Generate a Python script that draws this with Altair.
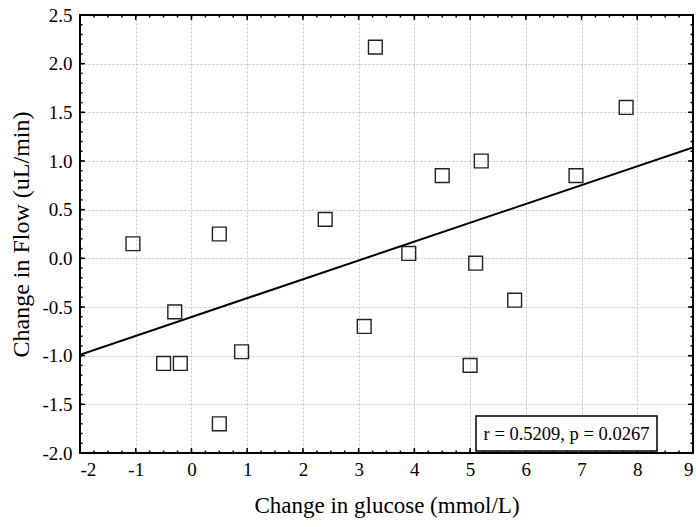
import altair as alt
import pandas as pd
import numpy as np

# data
glucose = [-1.05, -0.3, -0.5, -0.2, 0.5, 0.5, 0.9, 2.4, 3.1, 3.3, 3.9, 4.5, 5.0, 5.1, 5.2, 5.8, 6.9, 7.8]
flow = [0.15, -0.55, -1.08, -1.08, 0.25, -1.70, -0.96, 0.40, -0.70, 2.17, 0.05, 0.85, -1.10, -0.05, 1.0, -0.43, 0.85, 1.55]
fit_x = [-2, 9]
fit_y = [-0.99, 1.14]
x_major = list(range(-2, 10))
y_major = [-2.0, -1.5, -1.0, -0.5, 0.0, 0.5, 1.0, 1.5, 2.0, 2.5]
x_minor = np.arange(-2, 9.001, 0.25).round(2).tolist()
y_minor = np.arange(-2, 2.501, 0.1).round(2).tolist()
annotation = "r = 0.5209, p = 0.0267"

W, H = 613, 438
FONT = "Liberation Serif"

pts = pd.DataFrame({"x": glucose, "y": flow})
fit = pd.DataFrame({"x": fit_x, "y": fit_y})

xs = alt.Scale(domain=[-2, 9], nice=False, zero=False)
ys = alt.Scale(domain=[-2.0, 2.5], nice=False, zero=False)

xaxis = alt.Axis(values=x_major, title="Change in glucose (mmol/L)",
                 labelExpr="(datum.value<0?'-':'') + abs(datum.value)",
                 grid=True, gridDash=[2, 2], gridColor="#c4c4c4", gridWidth=1,
                 tickSize=0, domain=False, labelPadding=7, titlePadding=15,
                 labelFont=FONT, labelFontSize=19, labelColor="black",
                 titleFont=FONT, titleFontSize=23, titleFontWeight="normal", titleColor="black")
yaxis = alt.Axis(values=y_major, title="Change in Flow (uL/min)",
                 labelExpr="(datum.value<0?'-':'') + format(abs(datum.value), '.1f')",
                 grid=True, gridDash=[2, 2], gridColor="#c4c4c4", gridWidth=1,
                 tickSize=0, domain=False, labelPadding=8, titlePadding=8,
                 labelFont=FONT, labelFontSize=19, labelColor="black",
                 titleFont=FONT, titleFontSize=24, titleFontWeight="normal", titleColor="black")

points = alt.Chart(pts).mark_point(shape="square", filled=False, size=190,
                                   color="#222222", strokeWidth=1.4, opacity=1).encode(
    x=alt.X("x:Q", scale=xs, axis=xaxis),
    y=alt.Y("y:Q", scale=ys, axis=yaxis),
)

line = alt.Chart(fit).mark_line(color="black", strokeWidth=2, clip=True).encode(
    x=alt.X("x:Q", scale=xs), y=alt.Y("y:Q", scale=ys))

def xticks(vals, length):
    d = pd.DataFrame({"v": vals})
    bot = alt.Chart(d).mark_rule(color="black", strokeWidth=1.5).encode(
        x=alt.X("v:Q", scale=xs), y=alt.value(H), y2=alt.value(H - length))
    top = alt.Chart(d).mark_rule(color="black", strokeWidth=1.5).encode(
        x=alt.X("v:Q", scale=xs), y=alt.value(0), y2=alt.value(length))
    return bot + top

def yticks(vals, length):
    d = pd.DataFrame({"v": vals})
    left = alt.Chart(d).mark_rule(color="black", strokeWidth=1.5).encode(
        y=alt.Y("v:Q", scale=ys), x=alt.value(0), x2=alt.value(length))
    right = alt.Chart(d).mark_rule(color="black", strokeWidth=1.5).encode(
        y=alt.Y("v:Q", scale=ys), x=alt.value(W), x2=alt.value(W - length))
    return left + right

frame = alt.Chart(pd.DataFrame({"a": [0]})).mark_rect(
    fill=None, stroke="black", strokeWidth=2).encode(
    x=alt.value(0), x2=alt.value(W), y=alt.value(0), y2=alt.value(H))

box = alt.Chart(pd.DataFrame({"t": [annotation]})).mark_rect(
    fill="white", stroke="black", strokeWidth=1.5).encode(
    x=alt.value(396), x2=alt.value(577), y=alt.value(401), y2=alt.value(436))
txt = alt.Chart(pd.DataFrame({"t": [annotation]})).mark_text(
    font=FONT, fontSize=18.5, color="black", align="center", baseline="middle").encode(
    x=alt.value(486.5), y=alt.value(419), text="t:N")

chart = alt.layer(points, line, xticks(x_minor, 2.5), xticks(x_major, 5),
                  yticks(y_minor, 2.5), yticks(y_major, 5), box, txt, frame).properties(
    width=W, height=H,
    autosize=alt.AutoSizeParams(type="none"),
    padding={"left": 80, "top": 15, "right": 3, "bottom": 74},
    background="white",
).configure_view(stroke=None)

chart.save("out.html", embed_options={"renderer": "svg", "actions": False})
